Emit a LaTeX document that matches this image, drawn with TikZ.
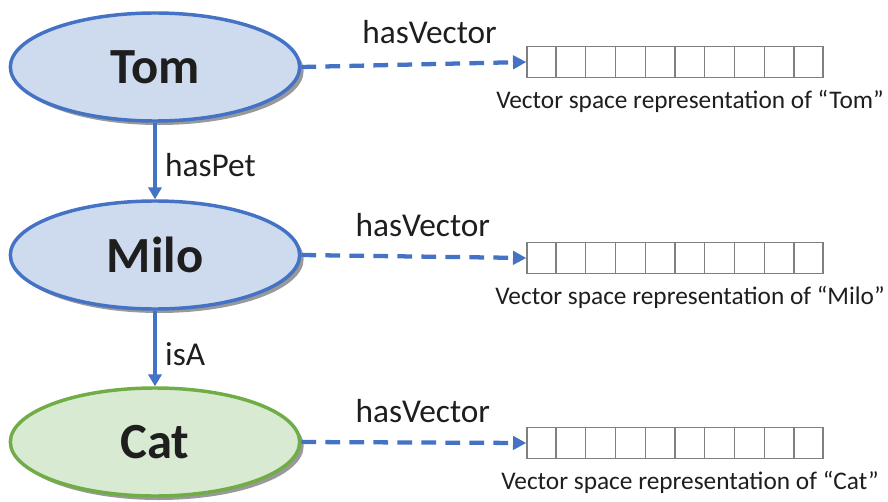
\documentclass[tikz,border=0pt]{standalone}
\usepackage{fontspec}
\setmainfont{Carlito}
\usepackage{tikz}
\usetikzlibrary{
  arrows.meta, positioning, shapes.geometric, calc, shadows
}
\usepackage{xcolor}
\definecolor{kgblue}{RGB}{68, 114, 196}
\definecolor{kgbluefill}{RGB}{206, 219, 238}
\definecolor{kggreen}{RGB}{112, 173, 71}
\definecolor{kggreenfill}{RGB}{217, 234, 211}
\definecolor{cellgray}{RGB}{128, 128, 128}
\definecolor{inkdark}{RGB}{30, 30, 30}

\begin{document}
\begin{tikzpicture}[
        x=0.75pt, y=-0.75pt,
        entity/.style={ellipse, draw=kgblue, fill=kgbluefill, line width=2.6pt,
                       minimum width=217pt, minimum height=81pt, inner sep=0pt,
                       font=\fontsize{38}{42}\selectfont\bfseries, text=inkdark,
                       drop shadow={shadow xshift=3pt, shadow yshift=-3pt,
                                    fill=black!80, opacity=0.5}},
        vecbox/.style={draw=cellgray, line width=1pt, minimum width=222pt,
                       minimum height=23pt, inner sep=0pt},
        vecnote/.style={font=\fontsize{19}{22}\selectfont, text=inkdark},
        rel/.style={font=\fontsize{25}{29}\selectfont, text=inkdark},
        embed/.style={-{Triangle[length=10pt, width=10pt]}, kgblue, line width=3.2pt,
                      dash pattern=on 11pt off 7pt},
        link/.style={-{Triangle[length=9pt, width=10pt]}, kgblue, line width=2.6pt},
      ]
        \useasboundingbox (0,0) rectangle (888,502);

        % entities
        \node[entity] (tom) at (155,67) {Tom};
        \node[entity] (milo) at (155,255) {Milo};
        \node[entity, draw=kggreen, fill=kggreenfill] (cat) at (155,442) {Cat};

        % vector representations
        \node[vecbox] (tomvec) at (675,62) {};
        \node[vecbox] (milovec) at (675,258) {};
        \node[vecbox] (catvec) at (675,443) {};
        \foreach \v in {tomvec, milovec, catvec}
          \foreach \i in {1,...,9}
            \draw[cellgray, line width=1pt]
              ($(\v.north west)!\i/10!(\v.north east)$) --
              ($(\v.south west)!\i/10!(\v.south east)$);

        \node[vecnote] (tomnote) at (690,101) {Vector space representation of “Tom”};
        \node[vecnote] (milonote) at (690,297) {Vector space representation of “Milo”};
        \node[vecnote] (catnote) at (690,482) {Vector space representation of “Cat”};

        % hasVector links
        \draw[embed] (tom.east) -- (tomvec.west)
          node[rel, pos=0.57, above=10pt] {hasVector};
        \draw[embed] (milo.east) -- (milovec.west)
          node[rel, pos=0.54, above=10pt] {hasVector};
        \draw[embed] (cat.east) -- (catvec.west)
          node[rel, pos=0.54, above=10pt] {hasVector};

        % graph relations
        \draw[link] (tom.south) -- (milo.north)
          node[rel, midway, right=3pt, yshift=-3pt] {hasPet};
        \draw[link] (milo.south) -- (cat.north)
          node[rel, midway, right=3pt, yshift=-4pt] {isA};
      \end{tikzpicture}
\end{document}
